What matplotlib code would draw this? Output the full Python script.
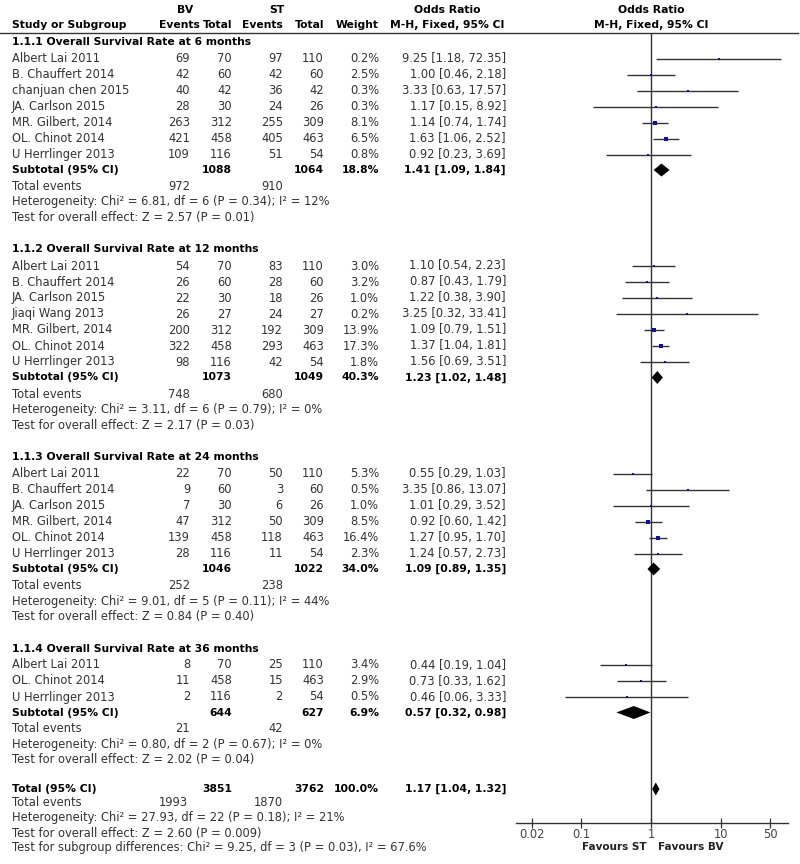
import matplotlib
matplotlib.use('Agg')
import matplotlib.pyplot as plt
import numpy as np

# ---------------- data ----------------
group_titles = ["1.1.1 Overall Survival Rate at 6 months",
                "1.1.2 Overall Survival Rate at 12 months",
                "1.1.3 Overall Survival Rate at 24 months",
                "1.1.4 Overall Survival Rate at 36 months"]

g1_studies = ["Albert Lai 2011", "B. Chauffert 2014", "chanjuan chen 2015", "JA. Carlson 2015",
              "MR. Gilbert, 2014", "OL. Chinot 2014", "U Herrlinger 2013"]
g1_bv_ev = [69, 42, 40, 28, 263, 421, 109]
g1_bv_tot = [70, 60, 42, 30, 312, 458, 116]
g1_st_ev = [97, 42, 36, 24, 255, 405, 51]
g1_st_tot = [110, 60, 42, 26, 309, 463, 54]
g1_weight = [0.2, 2.5, 0.3, 0.3, 8.1, 6.5, 0.8]
g1_or = [9.25, 1.00, 3.33, 1.17, 1.14, 1.63, 0.92]
g1_lo = [1.18, 0.46, 0.63, 0.15, 0.74, 1.06, 0.23]
g1_hi = [72.35, 2.18, 17.57, 8.92, 1.74, 2.52, 3.69]

g2_studies = ["Albert Lai 2011", "B. Chauffert 2014", "JA. Carlson 2015", "Jiaqi Wang 2013",
              "MR. Gilbert, 2014", "OL. Chinot 2014", "U Herrlinger 2013"]
g2_bv_ev = [54, 26, 22, 26, 200, 322, 98]
g2_bv_tot = [70, 60, 30, 27, 312, 458, 116]
g2_st_ev = [83, 28, 18, 24, 192, 293, 42]
g2_st_tot = [110, 60, 26, 27, 309, 463, 54]
g2_weight = [3.0, 3.2, 1.0, 0.2, 13.9, 17.3, 1.8]
g2_or = [1.10, 0.87, 1.22, 3.25, 1.09, 1.37, 1.56]
g2_lo = [0.54, 0.43, 0.38, 0.32, 0.79, 1.04, 0.69]
g2_hi = [2.23, 1.79, 3.90, 33.41, 1.51, 1.81, 3.51]

g3_studies = ["Albert Lai 2011", "B. Chauffert 2014", "JA. Carlson 2015",
              "MR. Gilbert, 2014", "OL. Chinot 2014", "U Herrlinger 2013"]
g3_bv_ev = [22, 9, 7, 47, 139, 28]
g3_bv_tot = [70, 60, 30, 312, 458, 116]
g3_st_ev = [50, 3, 6, 50, 118, 11]
g3_st_tot = [110, 60, 26, 309, 463, 54]
g3_weight = [5.3, 0.5, 1.0, 8.5, 16.4, 2.3]
g3_or = [0.55, 3.35, 1.01, 0.92, 1.27, 1.24]
g3_lo = [0.29, 0.86, 0.29, 0.60, 0.95, 0.57]
g3_hi = [1.03, 13.07, 3.52, 1.42, 1.70, 2.73]

g4_studies = ["Albert Lai 2011", "OL. Chinot 2014", "U Herrlinger 2013"]
g4_bv_ev = [8, 11, 2]
g4_bv_tot = [70, 458, 116]
g4_st_ev = [25, 15, 2]
g4_st_tot = [110, 463, 54]
g4_weight = [3.4, 2.9, 0.5]
g4_or = [0.44, 0.73, 0.46]
g4_lo = [0.19, 0.33, 0.06]
g4_hi = [1.04, 1.62, 3.33]

sub_bv_tot = [1088, 1073, 1046, 644]
sub_st_tot = [1064, 1049, 1022, 627]
sub_weight = [18.8, 40.3, 34.0, 6.9]
sub_or = [1.41, 1.23, 1.09, 0.57]
sub_lo = [1.09, 1.02, 0.89, 0.32]
sub_hi = [1.84, 1.48, 1.35, 0.98]
sub_bv_events = [972, 748, 252, 21]
sub_st_events = [910, 680, 238, 42]
sub_het = ["Chi\u00b2 = 6.81, df = 6 (P = 0.34); I\u00b2 = 12%",
           "Chi\u00b2 = 3.11, df = 6 (P = 0.79); I\u00b2 = 0%",
           "Chi\u00b2 = 9.01, df = 5 (P = 0.11); I\u00b2 = 44%",
           "Chi\u00b2 = 0.80, df = 2 (P = 0.67); I\u00b2 = 0%"]
sub_z = ["Z = 2.57 (P = 0.01)", "Z = 2.17 (P = 0.03)",
         "Z = 0.84 (P = 0.40)", "Z = 2.02 (P = 0.04)"]

total_bv_tot, total_st_tot, total_weight = 3851, 3762, 100.0
total_or, total_lo, total_hi = 1.17, 1.04, 1.32
total_bv_events, total_st_events = 1993, 1870
total_het = "Chi\u00b2 = 27.93, df = 22 (P = 0.18); I\u00b2 = 21%"
total_z = "Z = 2.60 (P = 0.009)"
subgroup_diff = "Chi\u00b2 = 9.25, df = 3 (P = 0.03), I\u00b2 = 67.6%"

axis_ticks = [0.02, 0.1, 1, 10, 50]
axis_tick_labels = ["0.02", "0.1", "1", "10", "50"]

groups = [
    (g1_studies, g1_bv_ev, g1_bv_tot, g1_st_ev, g1_st_tot, g1_weight, g1_or, g1_lo, g1_hi),
    (g2_studies, g2_bv_ev, g2_bv_tot, g2_st_ev, g2_st_tot, g2_weight, g2_or, g2_lo, g2_hi),
    (g3_studies, g3_bv_ev, g3_bv_tot, g3_st_ev, g3_st_tot, g3_weight, g3_or, g3_lo, g3_hi),
    (g4_studies, g4_bv_ev, g4_bv_tot, g4_st_ev, g4_st_tot, g4_weight, g4_or, g4_lo, g4_hi),
]

# ---------------- layout ----------------
W, H = 800, 864
FS = 8.3
FSB = 7.75
TXT = '#333333'
LINE = '#333333'
SQ = '#10109a'

fig = plt.figure(figsize=(W / 100, H / 100), dpi=100)
axt = fig.add_axes([0, 0, 1, 1])
axt.set_xlim(0, W)
axt.set_ylim(H, 0)
axt.axis('off')

X_NAME = 12
C_BVE, C_BVT, C_STE, C_STT, C_W, C_OR = 190, 232, 283, 324, 379, 506

L, R, TOP, BOT = 516, 788, 33, 823
axf = fig.add_axes([L / W, 1 - BOT / H, (R - L) / W, (BOT - TOP) / H])
axf.patch.set_alpha(0)
axf.set_xscale('log')
ppd = (770 - 532) / np.log10(50 / 0.02)
axf.set_xlim(10 ** (np.log10(0.02) - (532 - L) / ppd), 10 ** (np.log10(50) + (R - 770) / ppd))
axf.set_ylim(BOT, TOP)
for s in ['top', 'left', 'right']:
    axf.spines[s].set_visible(False)
axf.spines['bottom'].set_color(LINE)
axf.spines['bottom'].set_linewidth(1.0)
axf.set_yticks([])
axf.set_xticks(axis_ticks)
axf.set_xticklabels(axis_tick_labels)
axf.xaxis.set_minor_locator(matplotlib.ticker.NullLocator())
axf.tick_params(axis='x', direction='inout', length=7, width=0.9, color=LINE,
                labelsize=FS, labelcolor='#444444', pad=0)
axf.axvline(1, color=LINE, lw=1.0, zorder=1)


def t(x, y, s, ha='left', bold=False, color=None, size=None):
    axt.text(x, y, s, ha=ha, va='center', fontsize=size or (FSB if bold else FS),
             fontweight='bold' if bold else 'normal',
             color=color or ('black' if bold else TXT))


def fmt_or(o, lo, hi):
    return f"{o:.2f} [{lo:.2f}, {hi:.2f}]"


def diamond(o, lo, hi, y, hh=6.5):
    axf.fill([lo, o, hi, o], [y, y - hh, y, y + hh], color='black', lw=0, zorder=3)


# headers
t(185, 10, "BV", ha='center', bold=True)
t(277, 10, "ST", ha='center', bold=True)
t(X_NAME, 25, "Study or Subgroup", bold=True)
t(200, 25, "Events", ha='right', bold=True)
t(C_BVT, 25, "Total", ha='right', bold=True)
t(C_STE, 25, "Events", ha='right', bold=True)
t(C_STT, 25, "Total", ha='right', bold=True)
t(C_W, 25, "Weight", ha='right', bold=True)
t(447, 10, "Odds Ratio", ha='center', bold=True)
t(447, 25, "M-H, Fixed, 95% CI", ha='center', bold=True)
t(651, 10, "Odds Ratio", ha='center', bold=True)
t(651, 25, "M-H, Fixed, 95% CI", ha='center', bold=True)
axt.plot([0, 798], [33, 33], color=LINE, lw=1.0)

y = 42.0
STEP = 16.0
for gi, g in enumerate(groups):
    names, bve, bvt, ste, stt, wt, o, lo, hi = g
    t(X_NAME, y, group_titles[gi], bold=True)
    y += 16.5
    for i in range(len(names)):
        t(X_NAME, y, names[i])
        t(C_BVE, y, str(bve[i]), ha='right')
        t(C_BVT, y, str(bvt[i]), ha='right')
        t(C_STE, y, str(ste[i]), ha='right')
        t(C_STT, y, str(stt[i]), ha='right')
        t(C_W, y, f"{wt[i]:.1f}%", ha='right')
        t(C_OR, y, fmt_or(o[i], lo[i], hi[i]), ha='right')
        axf.plot([lo[i], hi[i]], [y, y], color=LINE, lw=1.0, zorder=2, solid_capstyle='butt')
        side = max(2.2, 5.0 * np.sqrt(wt[i] / 17.3))
        axf.plot([o[i]], [y], marker='s', ms=side * 0.72, color=SQ, mec=SQ, mew=0, zorder=3)
        y += STEP
    y -= 0.5
    t(X_NAME, y, "Subtotal (95% CI)", bold=True)
    t(C_BVT, y, str(sub_bv_tot[gi]), ha='right', bold=True)
    t(C_STT, y, str(sub_st_tot[gi]), ha='right', bold=True)
    t(C_W, y, f"{sub_weight[gi]:.1f}%", ha='right', bold=True)
    t(C_OR, y, fmt_or(sub_or[gi], sub_lo[gi], sub_hi[gi]), ha='right', bold=True)
    diamond(sub_or[gi], sub_lo[gi], sub_hi[gi], y)
    y += 16.5
    t(X_NAME, y, "Total events")
    t(C_BVE, y, str(sub_bv_events[gi]), ha='right')
    t(C_STE, y, str(sub_st_events[gi]), ha='right')
    y += 15.5
    t(X_NAME, y, "Heterogeneity: " + sub_het[gi])
    y += 15.5
    t(X_NAME, y, "Test for overall effect: " + sub_z[gi])
    y += 32

# overall
y -= 3
t(X_NAME, y, "Total (95% CI)", bold=True)
t(C_BVT, y, str(total_bv_tot), ha='right', bold=True)
t(C_STT, y, str(total_st_tot), ha='right', bold=True)
t(C_W, y, f"{total_weight:.1f}%", ha='right', bold=True)
t(C_OR, y, fmt_or(total_or, total_lo, total_hi), ha='right', bold=True)
diamond(total_or, total_lo, total_hi, y)
y += 14
t(X_NAME, y, "Total events")
t(C_BVE - 2, y, str(total_bv_events), ha='right')
t(C_STE, y, str(total_st_events), ha='right')
y += 15
t(X_NAME, y, "Heterogeneity: " + total_het)
y += 15
t(X_NAME, y, "Test for overall effect: " + total_z)
y += 15
t(X_NAME, y, "Test for subgroup differences: " + subgroup_diff)

t(647, 847, "Favours ST", ha='right', bold=True, color='#222222', size=7.5)
t(658, 847, "Favours BV", ha='left', bold=True, color='#222222', size=7.5)

fig.savefig("out.png", dpi=100)
